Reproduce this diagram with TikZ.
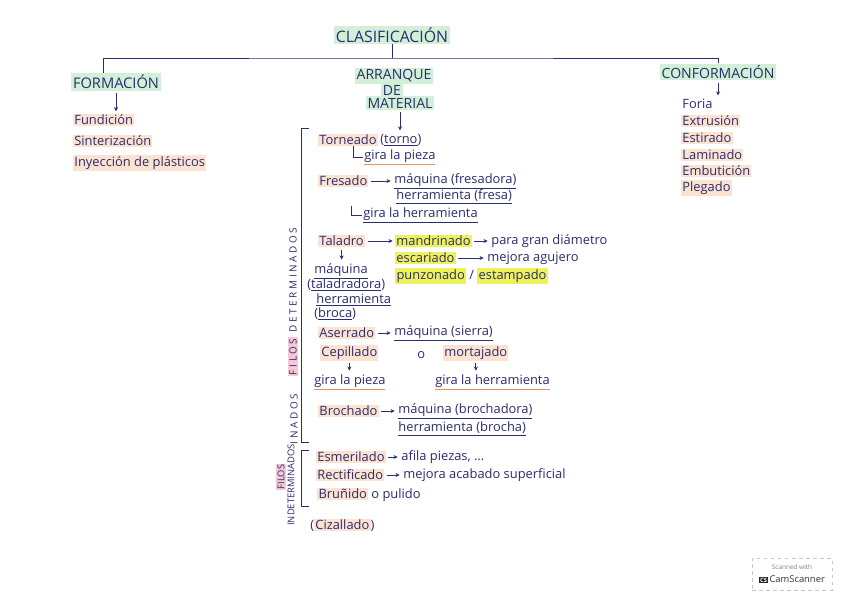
\documentclass[tikz,border=0pt]{standalone}
\usepackage{fontspec}
\setmainfont{Open Sans}
\newfontfamily\spacedfont[LetterSpace=26]{Open Sans}
\usetikzlibrary{arrows.meta}

\definecolor{ink}{HTML}{2B2D6E}
\definecolor{hlgreen}{HTML}{D2F0D8}
\definecolor{hlpeach}{HTML}{FCE2D0}
\definecolor{hlyellow}{HTML}{EEF25A}
\definecolor{hlpink}{HTML}{F6C8D6}
\definecolor{lineorange}{HTML}{E8935C}

% underline / highlight helpers
\newcommand\ul[1]{\underline{#1}}
\newcommand\ulo[1]{\textcolor{lineorange}{\underline{\textcolor{ink}{#1}}}}
\newcommand\hlp[1]{{\setlength\fboxsep{1pt}\colorbox{hlpeach}{#1}}}
\newcommand\hly[1]{{\setlength\fboxsep{1pt}\colorbox{hlyellow}{#1}}}
\newcommand\hlk[1]{{\setlength\fboxsep{1pt}\colorbox{hlpink}{#1}}}

\tikzset{
  every node/.style={text=ink, inner sep=1pt},
  txt/.style={anchor=west, font=\fontsize{11}{13}\selectfont},
  ttl/.style={font=\fontsize{12}{14}\selectfont, fill=hlgreen, inner sep=1.5pt},
  peach/.style={txt, fill=hlpeach},
  yel/.style={txt, fill=hlyellow},
  side/.style={rotate=90, font=\fontsize{8}{9}\selectfont},
  tree/.style={draw=ink, thick},
  lline/.style={draw=ink, semithick},
  arr/.style={-{Stealth[length=3.5pt,width=3.5pt]}, ink, semithick, shorten >=2pt, shorten <=2pt}
}

\begin{document}
\begin{tikzpicture}[x=0.03cm, y=-0.03cm]
\useasboundingbox (0,0) rectangle (848,599);
\fill[white] (0,0) rectangle (848,599);

% titles
\node[ttl, font=\fontsize{13.5}{15}\selectfont] (clas) at (392,35) {CLASIFICACIÓN};
\node[ttl, font=\fontsize{12.5}{14}\selectfont] (form) at (116,82) {FORMACIÓN};
\node[ttl] (arr1) at (394,76) {ARRANQUE};
\node[ttl] (arr2) at (392,90) {DE};
\node[ttl] (arr3) at (400,103) {MATERIAL};
\node[ttl] (conf) at (718,72) {CONFORMACIÓN};
\coordinate (bar) at (392,58);
\draw[tree] (clas) -- (bar);
\draw[tree] ([xshift=-11pt]form.north) |- (bar) -| (conf.north);

% formacion
\node[peach] (fund) at (73,120) {Fundición};
\node[peach] (sint) at (73,141) {Sinterización};
\node[peach] (iny) at (73,163) {Inyección de plásticos};
\draw[arr] (form) -- (form |- fund.north);

% conformacion
\node[txt] (foria) at (681,104) {Foria};
\node[peach] (extr) at (681,121) {Extrusión};
\node[peach] (esti) at (681,138) {Estirado};
\node[peach] (lami) at (681,155) {Laminado};
\node[peach] (embu) at (681,171) {Embutición};
\node[peach] (pleg) at (681,188) {Plegado};
\draw[arr] (conf) -- (conf |- foria.north);

% arranque de material: filos determinados
\node[peach] (tor) at (318,140) {Torneado};
\node[txt] (torno) at (379,140) {(\ul{torno})};
\node[txt] (gp1) at (363,157) {\ulo{gira la pieza}};
\draw[arr] (arr3) -- (arr3 |- torno.north);
\draw[lline] ([xshift=-8pt]gp1.west |- tor.south) |- (gp1.west);

\node[peach] (fres) at (318,181) {Fresado};
\node[txt] (maqf) at (393,181) {\ul{máquina (fresadora)}};
\node[txt] (herf) at (395,197) {\ul{herramienta (fresa)}};
\node[txt] (gh1) at (362,215) {\ul{gira la herramienta}};
\draw[arr] (fres) -- (maqf);
\draw[lline] ([xshift=-9pt]gh1.west |- herf.south) |- (gh1.west);

\node[peach] (tal) at (318,241) {Taladro};
\node[yel] (mand) at (395,241) {mandrinado};
\node[txt] (pgd) at (490,241) {para gran diámetro};
\node[yel] (esc) at (395,258) {escariado};
\node[txt] (mag) at (486,258) {mejora agujero};
\node[txt] (pun) at (394,276) {\hly{punzonado} / \hly{estampado}};
\draw[arr] (tal) -- (mand);
\draw[arr] (mand) -- (pgd);
\draw[arr] (esc) -- (mag);

\node[txt] (maq) at (313,271) {\ul{máquina}};
\node[txt] (tdr) at (306,285) {(\ul{taladradora})};
\node[txt] (herr) at (315,300) {\ul{herramienta}};
\node[txt] (broca) at (313,314) {(\ul{broca})};
\draw[arr] (tal) -- (tal |- maq.north);

\node[peach] (ase) at (318,333) {Aserrado};
\node[txt] (maqs) at (393,333) {\ul{máquina (sierra)}};
\draw[arr] (ase) -- (maqs);

\node[peach] (cep) at (320,353) {Cepillado};
\node[txt] (o) at (416,355) {o};
\node[peach] (mort) at (443,353) {mortajado};
\node[txt] (gp2) at (313,382) {\ulo{gira la pieza}};
\node[txt] (gh2) at (434,382) {\ulo{gira la herramienta}};
\draw[arr] (cep) -- (cep |- gp2.north);
\draw[arr] (mort) -- (mort |- gh2.north);

\node[peach] (bro) at (318,411) {Brochado};
\node[txt] (maqb) at (397,411) {\ul{máquina (brochadora)}};
\node[txt] (herb) at (397,429) {\ul{herramienta (brocha)}};
\draw[arr] (bro) -- (maqb);

\draw[lline] (309,128) -| (301,442) -- (309,442);
\node[side, font=\spacedfont\fontsize{8.5}{9}\selectfont] (fdet) at (293,302) {\hlk{FILOS} DETERMINADOS};
\node[side, font=\spacedfont\fontsize{8.5}{9}\selectfont] (frag) at (294,419) {INADOS};

% filos indeterminados
\node[peach] (esm) at (316,457) {Esmerilado};
\node[txt] (afi) at (400,457) {afila piezas, \dots};
\node[peach] (rec) at (316,475) {Rectificado};
\node[txt] (mac) at (402,475) {mejora acabado superficial};
\node[txt] (bru) at (316,495) {\hlp{Bruñido} o pulido};
\draw[arr] (esm) -- (afi);
\draw[arr] (rec) -- (mac);

\draw[lline] (309,450) -| (301,506) -- (309,506);
\node[side] (find1) at (281,477) {\hlk{FILOS}};
\node[side] (find2) at (291,485) {INDETERMINADOS};

\node[txt] (ciz) at (309,525) {(\hlp{Cizallado})};

% scanner badge
\node[draw=gray!45, dashed, fill=white, minimum width=68pt, minimum height=27pt, align=center, inner sep=2pt] (cs) at (792,574)
{\textcolor{gray}{\fontsize{5.5}{7}\selectfont Scanned with}\\[-1pt]
 {\fontsize{8}{9}\selectfont{\setlength\fboxsep{0.8pt}\colorbox{black!85}{\textcolor{white}{\bfseries\tiny CS}}}\,\textcolor{black!80}{CamScanner}}};
\end{tikzpicture}
\end{document}
